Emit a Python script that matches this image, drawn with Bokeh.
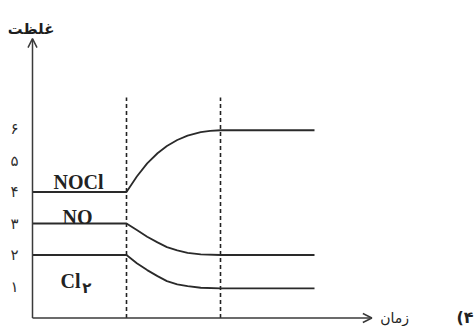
from bokeh.plotting import figure
from bokeh.models import Arrow, OpenHead, Label, FixedTicker
from bokeh.embed import file_html
from bokeh.resources import INLINE
from bokeh.core.properties import value

# ---- data ----
t_nocl = [0, 1.0, 1.11, 1.22, 1.33, 1.43, 1.54, 1.65, 1.79, 1.89, 2.0, 3.0]
c_nocl = [4.0, 4.0, 4.49, 4.91, 5.23, 5.46, 5.65, 5.79, 5.90, 5.94, 5.96, 5.96]
t_no = [0, 1.0, 1.11, 1.22, 1.33, 1.43, 1.54, 1.65, 1.79, 2.0, 3.0]
c_no = [3.0, 3.0, 2.79, 2.58, 2.40, 2.25, 2.15, 2.07, 2.02, 2.0, 2.0]
t_cl2 = [0, 1.0, 1.11, 1.22, 1.33, 1.43, 1.54, 1.65, 1.79, 2.0, 3.0]
c_cl2 = [2.0, 2.0, 1.74, 1.52, 1.33, 1.17, 1.07, 1.01, 0.96, 0.94, 0.94]
t_marks = [1, 2]           # dashed vertical lines
mark_top = 7
ticks = [1, 2, 3, 4, 5, 6]
tick_labels = ["۱", "۲", "۳", "۴", "۵", "۶"]
series_names = ["NOCl", "NO", "Cl"]
subscript = "۲"
y_title = "غلظت"
x_title = "زمان"
option = "(۴"

W, H = 475, 326
LEFT = 8
SX, SY = 94.0, 31.5
x0 = -(32 - LEFT) / SX
y0 = -(H - 317.5) / SY
p = figure(width=W, height=H, x_range=(x0, x0 + (W - LEFT) / SX), y_range=(y0, y0 + H / SY),
           x_axis_location=None, y_axis_location="left",
           min_border_left=LEFT, min_border_right=0, min_border_top=0, min_border_bottom=0,
           output_backend="svg", toolbar_location=None)
p.outline_line_color = None
p.grid.visible = False
p.background_fill_color = "white"
p.border_fill_color = "white"

ax = p.yaxis[0]
ax.ticker = FixedTicker(ticks=ticks)
ax.major_label_overrides = {k: v for k, v in zip(ticks, tick_labels)}
ax.axis_line_color = None
ax.major_tick_line_color = None
ax.minor_tick_line_color = None
ax.major_tick_in = 0
ax.major_tick_out = 0
ax.major_label_standoff = -10
ax.major_label_text_font = "DejaVu Sans"
ax.major_label_text_font_size = "15px"
ax.major_label_text_color = "#2e2e2e"

axis_col = "#3a3a3a"
p.add_layout(Arrow(end=OpenHead(size=9, line_width=1.5, line_color=axis_col),
                   x_start=0, y_start=0, x_end=0, y_end=8.87,
                   line_width=1.5, line_color=axis_col))
p.add_layout(Arrow(end=OpenHead(size=9, line_width=1.5, line_color=axis_col),
                   x_start=0, y_start=0, x_end=3.61, y_end=0,
                   line_width=1.5, line_color=axis_col))

p.segment(x0=t_marks, y0=[0, 0], x1=t_marks, y1=[mark_top, mark_top],
          line_color="#222222", line_width=1.6, line_dash="4 3")

line_col = "#2a2a2a"
for tx, cy in [(t_nocl, c_nocl), (t_no, c_no), (t_cl2, c_cl2)]:
    p.line(tx, cy, line_color=line_col, line_width=1.8)

lab_x = [0.223, 0.319, 0.298]
lab_y = [4.33, 3.22, 1.18]
p.text(x=lab_x, y=lab_y, text=series_names, text_font=value("Liberation Serif"),
       text_font_style="bold", text_font_size="20px", text_color="#222222",
       text_baseline="alphabetic", text_align="left")
p.text(x=[0.53], y=[0.95], text=[subscript], text_font=value("DejaVu Sans"),
       text_font_style="bold", text_font_size="15px", text_color="#222222",
       text_baseline="alphabetic", text_align="left")

p.add_layout(Label(x=-0.016, y=9.18, text=y_title, text_font="DejaVu Sans",
                   text_font_style="bold", text_font_size="15px", text_color="#1e1e1e",
                   text_align="center", text_baseline="alphabetic"))
p.add_layout(Label(x=3.70, y=0.0, text=x_title, text_font="DejaVu Sans",
                   text_font_size="14px", text_color="#222222",
                   text_align="left", text_baseline="middle"))
p.add_layout(Label(x=4.51, y=0.03, text=option, text_font="DejaVu Sans",
                   text_font_style="bold", text_font_size="16px", text_color="#222222",
                   text_align="left", text_baseline="middle"))

open("out.html", "w").write(file_html(p, INLINE))
